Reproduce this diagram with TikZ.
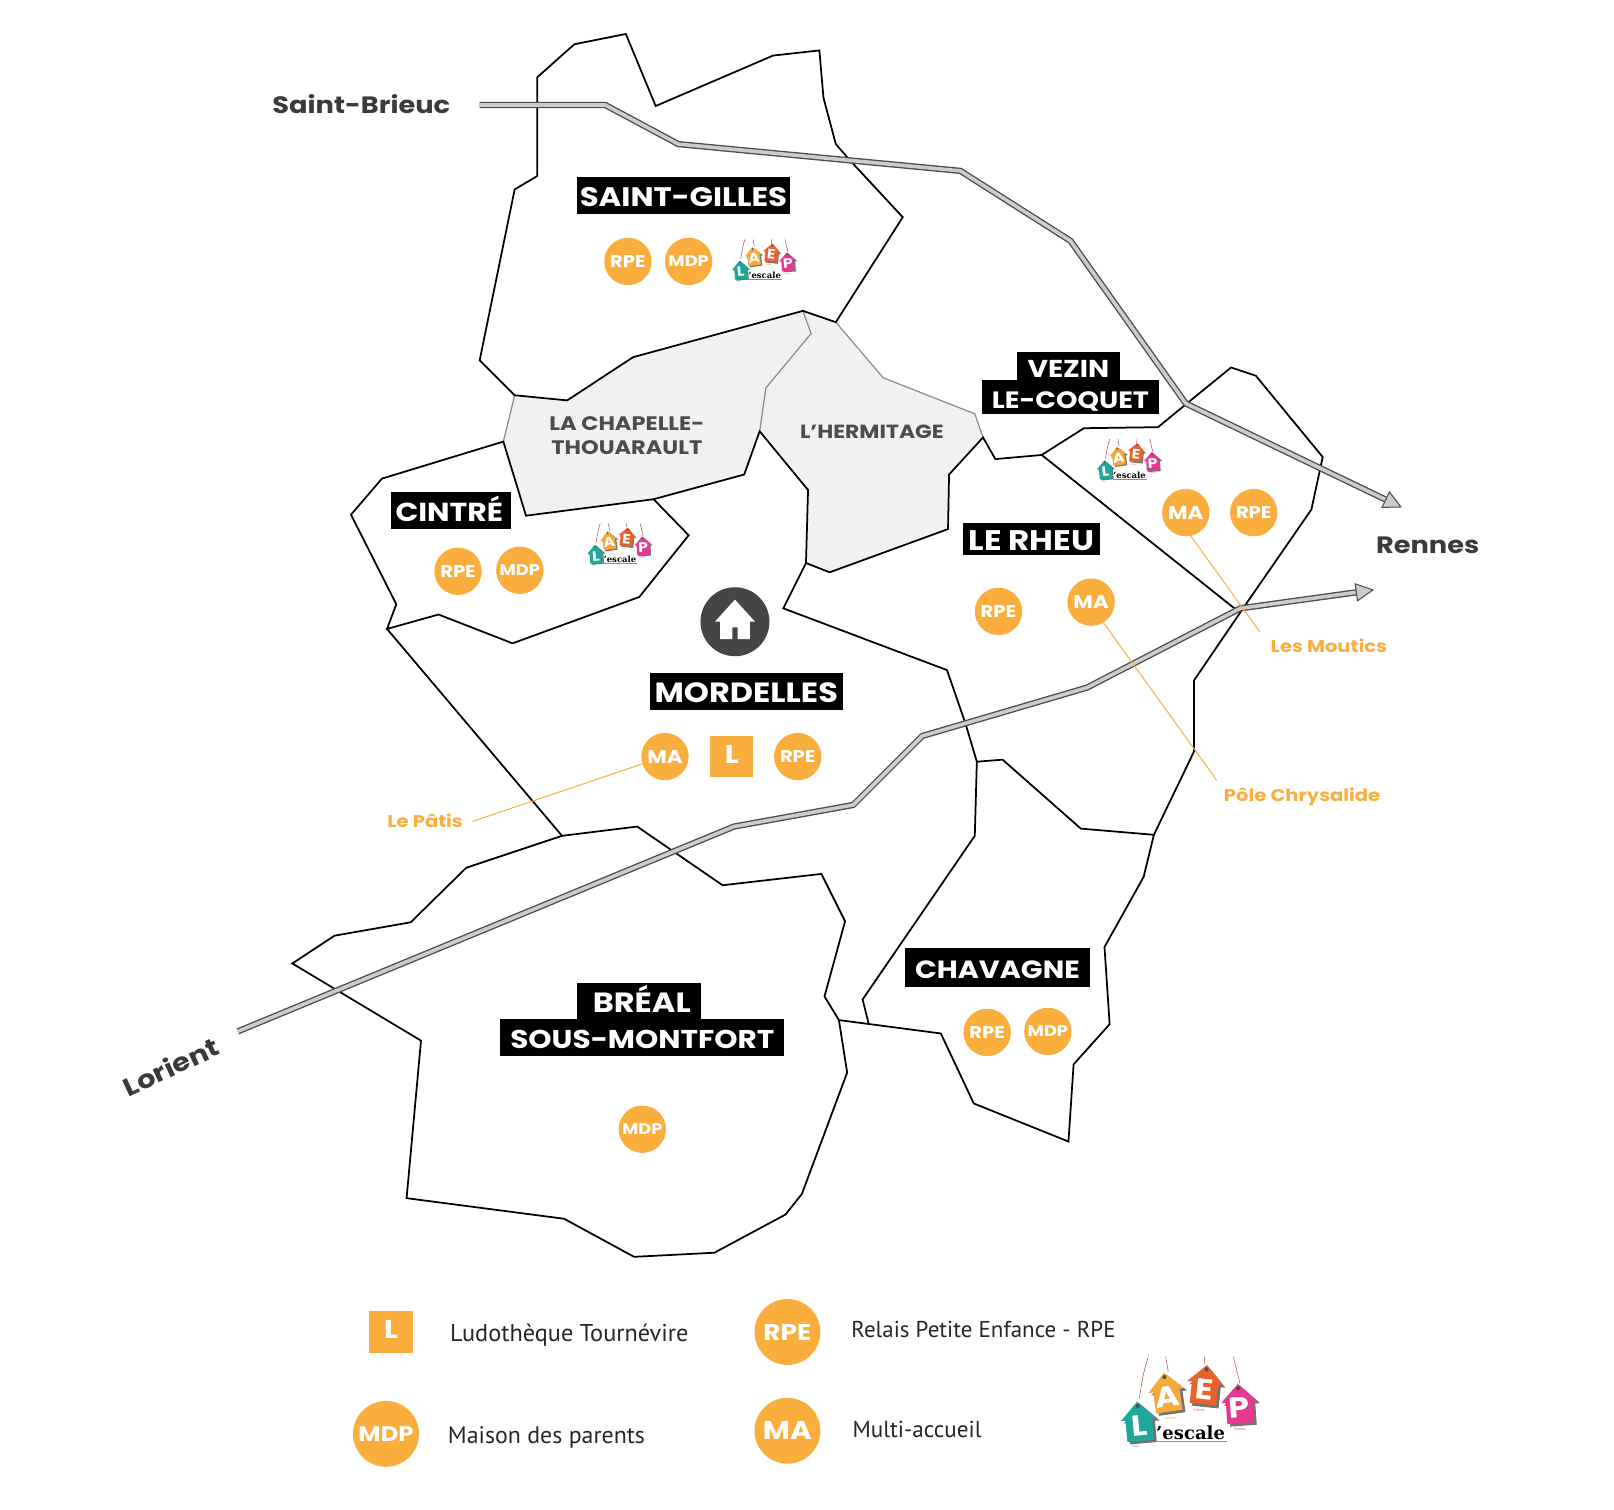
\documentclass[tikz,border=0pt]{standalone}
\usepackage{fontspec}
\setmainfont{PT Sans}
\newfontfamily\labelfont[FakeStretch=1.15]{Poppins}
\newfontfamily\logofont{DejaVu Serif}
\usetikzlibrary{arrows.meta}

\definecolor{badgeorange}{HTML}{F9AE3D}
\definecolor{leaderorange}{HTML}{F7B04C}
\definecolor{zonegray}{HTML}{F1F1F1}
\definecolor{darktext}{HTML}{3A3A3A}
\definecolor{E7}{HTML}{1FA79B}
\definecolor{E8}{HTML}{E8622B}
\definecolor{E9}{HTML}{E5398F}

\tikzset{
  commune/.style={draw=black,line width=1.7pt,line join=miter},
  road/.style={draw=black!70,line width=1.3pt,double=black!20,double distance=3.5pt,line join=round},
  roadtip/.style={-{Triangle[length=18pt,width=18pt,fill=black!20,line width=1pt]}},
  leader/.style={draw=leaderorange,line width=1pt},
  badge/.style={circle,fill=badgeorange,text=white,inner sep=0pt,minimum size=46pt,
    font=\labelfont\bfseries\fontsize{#1}{#1}\selectfont},
  bigbadge/.style={circle,fill=badgeorange,text=white,inner sep=0pt,minimum size=64pt,
    font=\labelfont\bfseries\fontsize{#1}{#1}\selectfont},
  ludo/.style={fill=badgeorange,text=white,inner sep=0pt,minimum width=#1pt,minimum height=40pt,
    text depth=4pt,font=\labelfont\bfseries\fontsize{25}{25}\selectfont},
  townbox/.style={fill=black,text=white,inner sep=0pt,minimum height=36pt,text height=21pt,text depth=0pt,
    font=\labelfont\bfseries\fontsize{#1}{#1}\selectfont},
  graytown/.style={text=black!70,font=\labelfont\bfseries\fontsize{#1}{#1}\selectfont},
  city/.style={text=darktext,font=\labelfont\bfseries\fontsize{#1}{#1}\selectfont},
  place/.style={text=badgeorange,font=\labelfont\bfseries\fontsize{16.5}{16.5}\selectfont},
  legendtext/.style={anchor=west,inner sep=0pt,text=black!85,font=\fontsize{#1}{#1}\selectfont},
  laep/.pic={
    \begin{scope}[x=.3238pt,y=-.3238pt,transform shape]
      \draw[red!40!gray,line width=.5pt] (145,50) .. controls (130,100) .. (118,175);
      \draw[red!40!gray,line width=.5pt] (197,50) -- (205,95);
      \draw[red!40!gray,line width=.5pt] (313,50) -- (315,75);
      \draw[red!40!gray,line width=.5pt] (400,50) -- (420,130);
      \foreach \hx/\hy/\hrot/\hcol/\hlet in {117/245/5/1FA79B/L,200/158/8/F7A83B/A,315/135/-6/E8622B/E,418/192/4/E5398F/P}{
        \definecolor{housecol}{HTML}{\hcol}
        \begin{scope}[shift={(\hx,\hy)},rotate=\hrot]
          \fill[black!55] (8,-52) -- (62,2) -- (48,2) -- (48,66) -- (-32,66) -- (-32,2) -- (-46,2) -- cycle;
          \fill[housecol] (0,-60) -- (54,-6) -- (40,-6) -- (40,58) -- (-40,58) -- (-40,-6) -- (-54,-6) -- cycle;
          \fill[black!70] (0,-47) circle (6);
          \node[text=white,font=\labelfont\bfseries\fontsize{28}{28}\selectfont] (laep\hlet) at (0,12) {\hlet};
        \end{scope}
      }
      \node[font=\logofont\bfseries\fontsize{17.5}{17.5}\selectfont] (laepword) at (272,278) {’escale};
      \fill[black!45] (165,304) rectangle (382,307);
      \node[text=badgeorange,font=\fontsize{3.5}{3.5}\selectfont] (laepa) at (212,234) {Accueil};
      \node[text=E8,font=\fontsize{3.5}{3.5}\selectfont] (laepe) at (297,212) {Enfants};
      \node[text=E9,font=\fontsize{3.5}{3.5}\selectfont] (laepp) at (420,268) {Parents};
      \node[text=E7,font=\fontsize{3.5}{3.5}\selectfont] (laepl) at (107,320) {Lieu};
    \end{scope}
  }
}

\begin{document}
\begin{tikzpicture}[x=1pt,y=-1pt]
  \useasboundingbox (0,0) rectangle (1568,1466);

  % gray communes
  \fill[zonegray] (500,384)--(551,389)--(615,347)--(780,302)--(788,324)--(744,377)--(738,419)--(723,461)--(635,485)--(511,501)--(489,429)--cycle;
  \fill[zonegray] (780,302)--(812,313)--(858,367)--(947,402)--(955,425)--(922,461)--(921,514)--(806,556)--(783,547)--(785,476)--(738,419)--(744,377)--(788,324)--cycle;
  \draw[black!45,line width=1.2pt] (780,302)--(788,324)--(744,377)--(738,419);
  \draw[black!45,line width=1.2pt] (812,313)--(858,367)--(947,402)--(955,425);
  \draw[black!45,line width=1.2pt] (500,384)--(489,429);

  % communes
  \draw[commune] (500,384)--(466,350)--(500,184)--(522,171)--(522,75)--(558,43)--(608,33)--(637,103)--(751,54)--(796,49)--(800,95)--(812,140)--(825,155)--(877,211)--(812,313)--(780,302)--(615,347)--(551,389)--cycle;
  \draw[commune] (489,429)--(371,465)--(341,500)--(385,587)--(376,611)--(426,597)--(498,625)--(621,580)--(669,520)--(635,485)--(511,501)--cycle;
  \draw[commune] (635,485)--(723,461)--(738,419)--(785,476)--(783,547)--(806,556)--(921,514)--(922,461)--(955,425)--(967,446)--(1012,442)--(1203,594);
  \draw[commune] (783,547)--(761,591)--(920,651)--(938,703)--(949,740)--(947,812)--(838,971)--(844,995);
  \draw[commune] (376,611)--(546,812)--(619,803)--(702,860)--(798,849)--(821,895)--(801,968)--(815,991)--(914,1004)--(946,1072)--(1038,1109)--(1043,1034)--(1078,995)--(1073,920)--(1111,852)--(1121,811)--(1050,805)--(974,738)--(949,740);
  \draw[commune] (1012,442)--(1053,416)--(1125,415)--(1153,392)--(1196,357)--(1220,365)--(1285,444)--(1274,495)--(1209,589)--(1160,661)--(1160,730)--(1121,811);
  \draw[commune] (546,812)--(453,843)--(399,896)--(325,909)--(284,936)--(409,1011)--(395,1164)--(548,1184)--(616,1221)--(694,1217)--(763,1180)--(779,1160)--(823,1042)--(815,991);

  % roads
  \coordinate (brieucstart) at (466,102);
  \coordinate (rennestipA) at (1362,493);
  \coordinate (lorientstart) at (231,1002);
  \coordinate (rennestipB) at (1335,573);
  \draw[road,roadtip] (brieucstart)--(588,102)--(659,140)--(933,166)--(1040,234)--(1152,392)--(rennestipA);
  \draw[road,roadtip] (lorientstart)--(713,803)--(829,782)--(896,715)--(1056,668)--(1205,591)--(rennestipB);

  \node[city=23] (saintbrieuc) at (351,101) {Saint-Brieuc};
  \node[city=23] (rennes) at (1387,530) {Rennes};
  \node[city=24.5,rotate=25] (lorient) at (166,1036) {Lorient};

  % town names
  \node[townbox=26,minimum width=207pt] (saintgilles) at (664,190) {SAINT-GILLES};
  \node[townbox=25.3,minimum width=116pt] (cintre) at (438,496) {\kern-3pt CINTRÉ};
  \node[townbox=27,minimum width=187pt] (mordelles) at (725,672) {MORDELLES};
  \node[townbox=27.5,minimum width=133pt,minimum height=31pt] (lerheu) at (1002,524) {LE RHEU};
  \node[townbox=23.7,minimum width=100pt,minimum height=29pt] (vezin) at (1038,356) {VEZIN};
  \node[townbox=23,minimum width=172pt,minimum height=33pt] (coquet) at (1040,386) {LE-COQUET};
  \node[townbox=24.2,minimum width=179pt,minimum height=38pt] (chavagne) at (969,940) {CHAVAGNE};
  \node[townbox=27,minimum width=120pt] (breal) at (621,973) {\kern5pt BRÉAL};
  \node[townbox=25,minimum width=276pt] (sousmontfort) at (624,1008) {SOUS-MONTFORT};
  \node[graytown=19] (chapelle) at (609,412) {LA CHAPELLE-};
  \node[graytown=19] (thouarault) at (609,435) {THOUARAULT};
  \node[graytown=18.5] (hermitage) at (847,419) {L’HERMITAGE};

  % badges
  \node[badge=16.5] (sgrpe) at (610,254) {RPE};
  \node[badge=15] (sgmdp) at (669,254) {MDP};
  \node[badge=16.5] (cirpe) at (445,555) {RPE};
  \node[badge=15] (cimdp) at (505,554) {MDP};
  \node[badge=18] (vzma) at (1152,498) {MA};
  \node[badge=16.5] (vzrpe) at (1218,498) {RPE};
  \node[badge=16.5] (lrrpe) at (970,594) {RPE};
  \node[badge=18] (lrma) at (1060,585) {MA};
  \node[badge=18] (moma) at (646,735) {MA};
  \node[ludo=42] (mol) at (711,735) {L};
  \node[badge=16.5] (morpe) at (775,735) {RPE};
  \node[badge=16.5] (chrpe) at (959,1003) {RPE};
  \node[badge=15] (chmdp) at (1018,1002) {MDP};
  \node[badge=15] (brmdp) at (624,1097) {MDP};

  % leaders
  \node[place] (moutics) at (1291,627) {Les Moutics};
  \node[place] (chrysalide) at (1265,774) {Pôle Chrysalide};
  \node[place] (patis) at (413,797) {Le Pâtis};
  \coordinate (mouticsend) at (1224,614);
  \coordinate (chrysalideend) at (1182,758);
  \coordinate (patisend) at (459,798);
  \draw[leader] (vzma.282)--(mouticsend);
  \draw[leader] (lrma.301)--(chrysalideend);
  \draw[leader] (moma.198)--(patisend);

  % house
  \node[circle,fill=black!73,minimum size=67pt,inner sep=0pt] (homedisc) at (714,604) {};
  \fill[white] (homedisc.center) ++(0,-21.5)--++(19.5,21.5)--++(-5,0)--++(0,17)--++(-12,0)--++(0,-11.5)--++(-5,0)--++(0,11.5)--++(-12,0)--++(0,-17)--++(-5,0)--cycle;

  % logos
  \pic[scale=.47] at (701.6,225) {laep};
  \pic[scale=.47] at (561,501) {laep};
  \pic[scale=.47] at (1056,419) {laep};
  \pic at (1068.6,1301.7) {laep};

  % legend
  \node[ludo=43] (keyl) at (380,1294) {L};
  \node[bigbadge=22.3] (keyrpe) at (765,1294) {RPE};
  \node[bigbadge=20.5] (keymdp) at (375,1393) {MDP};
  \node[bigbadge=25] (keyma) at (765,1390) {MA};
  \node[legendtext=23.6] (keyltext) at (437,1297) {Ludothèque Tournévire};
  \node[legendtext=22.3] (keyrpetext) at (827,1292) {Relais Petite Enfance - RPE};
  \node[legendtext=23.2] (keymdptext) at (435,1396) {Maison des parents};
  \node[legendtext=22.5] (keymatext) at (828,1389) {Multi-accueil};
\end{tikzpicture}
\end{document}
